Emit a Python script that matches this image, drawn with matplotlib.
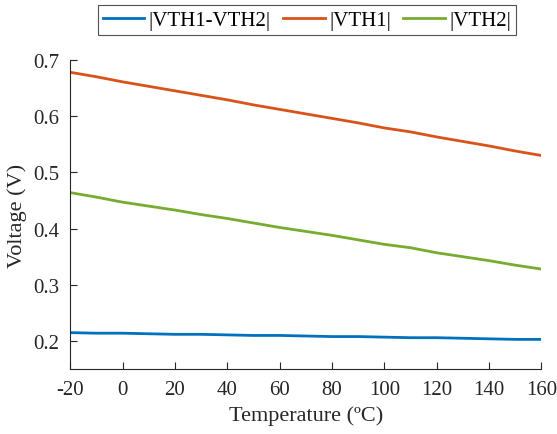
import matplotlib
matplotlib.use("Agg")
import matplotlib.pyplot as plt

temperature = [-20, -10, 0, 10, 20, 30, 40, 50, 60, 70, 80, 90, 100, 110, 120, 130, 140, 150, 160]
vth1 = [0.678, 0.670, 0.661, 0.653, 0.645, 0.637, 0.629, 0.620, 0.612, 0.604,
        0.596, 0.588, 0.579, 0.572, 0.563, 0.555, 0.547, 0.538, 0.530]
vth2 = [0.464, 0.456, 0.447, 0.440, 0.433, 0.425, 0.418, 0.410, 0.402, 0.395,
        0.388, 0.380, 0.372, 0.366, 0.357, 0.350, 0.343, 0.335, 0.328]
vdiff = [0.215, 0.214, 0.214, 0.213, 0.212, 0.212, 0.211, 0.210, 0.210, 0.209,
         0.208, 0.208, 0.207, 0.206, 0.206, 0.205, 0.204, 0.203, 0.203]
labels = ["|VTH1-VTH2|", "|VTH1|", "|VTH2|"]
colors = ["#0072BD", "#D95319", "#77AC30"]
xticks = [-20, 0, 20, 40, 60, 80, 100, 120, 140, 160]
yticks = [0.2, 0.3, 0.4, 0.5, 0.6, 0.7]

plt.rcParams['font.family'] = ['Liberation Serif', 'DejaVu Serif']
fig = plt.figure(figsize=(5.57, 4.35), dpi=100)
ax = fig.add_axes([0.126, 0.149, 0.846, 0.711])

for ys, lab, c in zip([vdiff, vth1, vth2], labels, colors):
    ax.plot(temperature, ys, color=c, lw=2, label=lab)

ax.set_xlim(-20, 160)
ax.set_ylim(0.15, 0.7)
ax.set_xticks(xticks)
ax.set_xticklabels([str(t) for t in xticks])
ax.set_yticks(yticks)
ax.set_yticklabels([f"{t:.1f}" for t in yticks])
ax.spines['top'].set_visible(False)
ax.spines['right'].set_visible(False)
for s in ['left', 'bottom']:
    ax.spines[s].set_color('#262626')
    ax.spines[s].set_linewidth(0.8)
ax.tick_params(direction='in', length=5, width=0.8, colors='#262626',
               labelsize=15, labelcolor='#262626', pad=8)
ax.set_xlabel("Temperature (ºC)", fontsize=16, color='#262626', labelpad=4)
ax.set_ylabel("Voltage (V)", fontsize=16, color='#262626', labelpad=4)

leg = fig.legend(loc='center', bbox_to_anchor=(0.551, 0.951), ncol=3, fontsize=15,
                 frameon=True, fancybox=False, edgecolor='#262626',
                 handlelength=2.0, handletextpad=0.2, columnspacing=0.6,
                 borderpad=0.25, borderaxespad=0)
leg.get_frame().set_linewidth(0.8)

fig.savefig("out.png", dpi=100)
